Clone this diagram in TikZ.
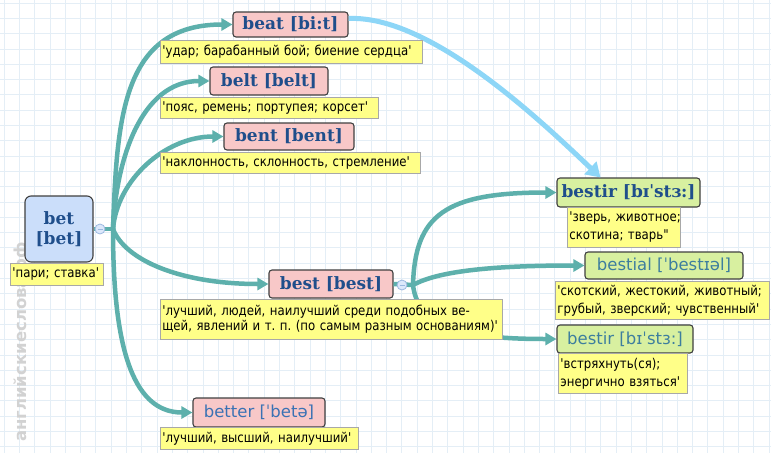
\documentclass[tikz,border=0pt]{standalone}
\usepackage{fontspec}
\setmainfont{DejaVu Sans}[Ligatures=TeXOff]
\newfontfamily\hwserif{DejaVu Serif}[Ligatures=TeXOff]
\newfontfamily\hwsans{DejaVu Sans}[Ligatures=TeXOff]
\newfontfamily\lblfont{DejaVu Sans}[Ligatures=TeXOff, FakeStretch=0.87]
\usetikzlibrary{arrows.meta}
\frenchspacing
\definecolor{gridc}{HTML}{E4EEF6}
\definecolor{linkc}{HTML}{5DB0AC}
\definecolor{skyc}{HTML}{8DD6F7}
\definecolor{pinkfill}{HTML}{F8C8C8}
\definecolor{bluefill}{HTML}{CBDEFA}
\definecolor{greenfill}{HTML}{D8F0A0}
\definecolor{boxline}{HTML}{404040}
\definecolor{lblfill}{HTML}{FFFF88}
\definecolor{lblline}{HTML}{A8A8A8}
\definecolor{hwblue}{HTML}{1F4E8B}
\definecolor{hwteal}{HTML}{3D7E9E}
\definecolor{hwblue2}{HTML}{3A72B4}
\definecolor{wmgrey}{HTML}{D2D2D2}
\definecolor{circline}{HTML}{9BB8E0}
\definecolor{circfill}{HTML}{DCE8FB}
\begin{document}
\begin{tikzpicture}[x=1pt,y=-1pt,
  hwbox/.style={draw=boxline, line width=1.1pt, rounded corners=3pt, inner sep=0pt, align=center},
  pinkbox/.style={hwbox, fill=pinkfill},
  greenbox/.style={hwbox, fill=greenfill},
  bluebox/.style={hwbox, fill=bluefill, rounded corners=6pt},
  boldhw/.style={font=\hwserif\bfseries\fontsize{17}{20}\selectfont, text=hwblue},
  lighthw/.style={font=\hwsans\fontsize{16.5}{18}\selectfont, text=hwteal},
  lbl/.style={draw=lblline, fill=lblfill, line width=0.8pt, anchor=north west, inner xsep=2pt, inner ysep=1pt, align=left, font=\lblfont\fontsize{13.5}{18}\selectfont},
  link/.style={line width=4.5pt, draw=linkc, -{Triangle[length=11pt,width=12pt]}},
  stub/.style={line width=4.5pt, draw=linkc},
  skylink/.style={line width=5pt, draw=skyc, -{Triangle[length=14pt,width=17pt]}},
  collapse/.style={circle, draw=circline, fill=circfill, line width=0.8pt, minimum size=10pt, inner sep=0pt}
]
\useasboundingbox (0,0) rectangle (771,453);
\fill[white] (0,0) rectangle (771,453);
% grid
\foreach \i in {0,...,50} {
  \draw[gridc, line width=0.8pt] ({4+15.3*\i},0) -- ({4+15.3*\i},453);
}
\foreach \i in {0,...,30} {
  \draw[gridc, line width=0.8pt] (0,{3+15.3*\i}) -- (771,{3+15.3*\i});
}
% watermark
\node[rotate=90, anchor=west, text=wmgrey, inner sep=0pt, font=\hwsans\bfseries\fontsize{16.5}{16.5}\selectfont] (wm) at (22,442) {английскиеслова.рф};

% headword boxes
\node[bluebox, boldhw, minimum width=68pt, minimum height=66pt] (bet) at (59,229) {bet\\{}[bet]};
\node[pinkbox, boldhw, minimum width=115pt, minimum height=25pt] (beat) at (290.5,24.5) {beat [bi:t]};
\node[pinkbox, boldhw, minimum width=118pt, minimum height=28pt] (belt) at (269,81) {belt [belt]};
\node[pinkbox, boldhw, minimum width=130pt, minimum height=27pt] (bent) at (289,136.5) {bent [bent]};
\node[pinkbox, boldhw, minimum width=124pt, minimum height=28pt] (best) at (331,284) {best [best]};
\node[pinkbox, lighthw, text=hwblue2, minimum width=132pt, minimum height=29pt] (better) at (259,412.5) {better [ˈbetə]};
\node[greenbox, boldhw, minimum width=143pt, minimum height=29pt] (bestirA) at (628.5,192.5) {bestir [bɪˈstɜ:]};
\node[greenbox, lighthw, minimum width=158pt, minimum height=27pt] (bestial) at (664,265.5) {bestial [ˈbestɪəl]};
\node[greenbox, lighthw, minimum width=136pt, minimum height=28pt] (bestirB) at (625,339) {bestir [bɪˈstɜ:]};

% branch points
\coordinate (bp1) at (113,229);
\coordinate (bp2) at (413,285);

% connectors
\draw[stub] (bet.east) -- (bp1);
\draw[stub] (best.east) -- (bp2);
\draw[link] (bp1) .. controls (117,118) and (122,24.5) .. (beat.west);
\draw[link] (bp1) .. controls (116,160) and (141,81) .. (belt.west);
\draw[link] (bp1) .. controls (117,180) and (165,136.5) .. (bent.west);
\draw[link] (bp1) .. controls (125,260) and (180,284) .. (best.west);
\draw[link] (bp1) .. controls (113,340) and (130,412.5) .. (better.west);
\draw[link] (bp2) .. controls (415,215) and (445,192.5) .. (bestirA.west);
\draw[link] (bp2) .. controls (440,270) and (500,265.5) .. (bestial.west);
\draw[link] (bp2) .. controls (418,330) and (470,339) .. (bestirB.west);
\draw[skylink] ([yshift=6pt]beat.east) .. controls (430,15) and (540,120) .. ([xshift=-28pt]bestirA.north);

% labels
\node[lbl, text width=89pt, minimum height=22pt] (betl) at (10,263) {\mbox{'пари; ставка'}};
\node[lbl, text width=258pt, minimum height=23pt] (beatl) at (160,40) {\mbox{'удар; барабанный бой; биение сердца'}};
\node[lbl, text width=214pt, minimum height=21pt] (beltl) at (160,97) {\mbox{'пояс, ремень; портупея; корсет'}};
\node[lbl, text width=256pt, minimum height=21pt] (bentl) at (160,152) {\mbox{'наклонность, склонность, стремление'}};
\node[lbl, text width=338pt, minimum height=40pt, font=\lblfont\fontsize{13.5}{15.5}\selectfont] (bestl) at (160,299) {\mbox{'лучший, людей, наилучший среди подобных ве-}\\\mbox{щей, явлений и т. п. (по самым разным основаниям)'}};
\node[lbl, text width=194pt, minimum height=22pt] (betterl) at (160,427) {\mbox{'лучший, высший, наилучший'}};
\node[lbl, text width=109pt, minimum height=40pt] (bestirAl) at (567,207) {\mbox{'зверь, животное;}\\\mbox{скотина; тварь"}};
\node[lbl, text width=210pt, minimum height=38pt] (bestiall) at (555,281) {\mbox{'скотский, жестокий, животный;}\\\mbox{грубый, зверский; чувственный'}};
\node[lbl, text width=125pt, minimum height=40pt] (bestirBl) at (558,353) {\mbox{'встряхнуть(ся);}\\\mbox{энергично взяться'}};

% collapse markers
\node[collapse] (c1) at (100,229) {};
\draw[circline, line width=1pt] ([xshift=-2.5pt]c1.center) -- ([xshift=2.5pt]c1.center);
\node[collapse] (c2) at (402,285) {};
\draw[circline, line width=1pt] ([xshift=-2.5pt]c2.center) -- ([xshift=2.5pt]c2.center);
\end{tikzpicture}
\end{document}
